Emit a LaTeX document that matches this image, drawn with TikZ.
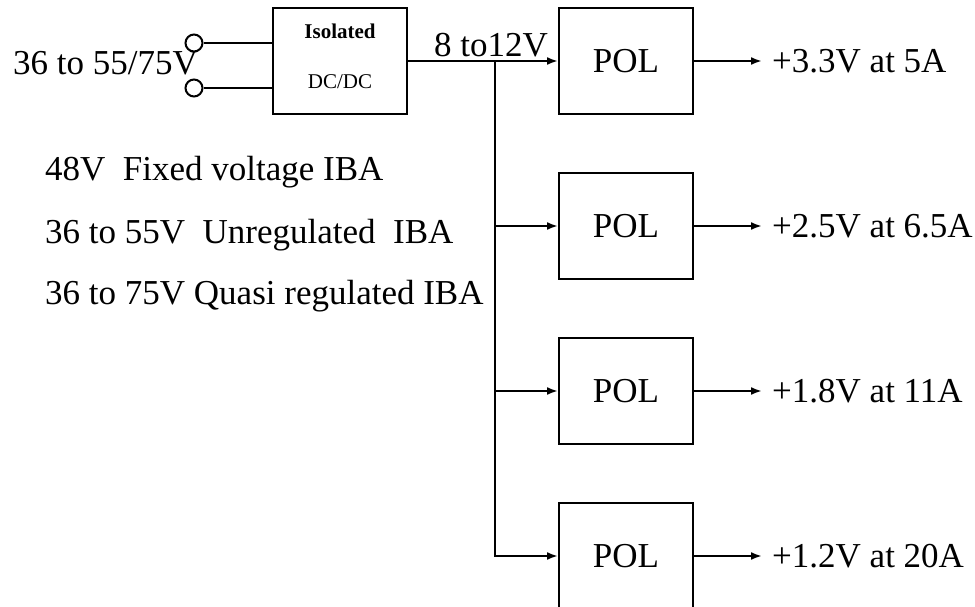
\documentclass[tikz,border=0pt]{standalone}
\usepackage{fontspec}
\setmainfont{Liberation Serif}
\usetikzlibrary{arrows.meta,positioning}
\tikzset{
  box/.style={
    draw,
    line width=2pt,
    minimum width=134pt,
    minimum height=106pt,
    inner sep=0pt,
    font=\fontsize{35}{40}\selectfont
  },
  term/.style={
    draw,
    circle,
    line width=2pt,
    minimum size=17pt,
    inner sep=0pt
  },
  lbl/.style={
    inner sep=0pt,
    font=\fontsize{35}{40}\selectfont
  },
  outlbl/.style={
    lbl,
    inner xsep=10pt,
    anchor=west
  },
  wire/.style={
    line width=2pt
  },
  arrow/.style={
    -{Latex[length=11pt,width=8pt]},
    line width=2pt
  }
}

\begin{document}
\begin{tikzpicture}[x=1pt,y=-1pt,node distance=57pt and 150pt]
\useasboundingbox (0,0) rectangle (975,607);

% isolated front end
\node[box, align=center, text depth=9pt, font=\fontsize{21}{50}\selectfont] (dcdc) at (340,61) {\textbf{Isolated}\\DC/DC};
\node[term] (tin) at (194,43) {};
\node[term] (bin) at (194,88) {};
\node[lbl, anchor=base east] (vin) at (198,75) {36 to 55/75V};

% point of load converters
\node[box, right=of dcdc] (pol1) {POL};
\node[box, below=of pol1] (pol2) {POL};
\node[box, below=of pol2] (pol3) {POL};
\node[box, below=of pol3] (pol4) {POL};

\node[outlbl, right=68pt of pol1] (out1) {+3.3V at 5A};
\node[outlbl, right=68pt of pol2] (out2) {+2.5V at 6.5A};
\node[outlbl, right=68pt of pol3] (out3) {+1.8V at 11A};
\node[outlbl, right=68pt of pol4] (out4) {+1.2V at 20A};

% bus voltage and IBA variants
\node[lbl, anchor=base west] (vbus) at (434,57) {8 to12V};
\node[lbl, anchor=base west] (iba1) at (45,181) {48V\ \ Fixed voltage IBA};
\node[lbl, anchor=base west] (iba2) at (45,243) {36 to 55V\ \ Unregulated\ \ IBA};
\node[lbl, anchor=base west] (iba3) at (45,304) {36 to 75V Quasi regulated IBA};

\coordinate (tap) at (495,61);

\draw[wire] (tin) -- (tin -| dcdc.west);
\draw[wire] (bin) -- (bin -| dcdc.west);
\draw[arrow] (dcdc) -- (pol1);
\draw[arrow] (tap) |- (pol2);
\draw[arrow] (tap) |- (pol3);
\draw[arrow] (tap) |- (pol4);
\draw[arrow] (pol1) -- (out1);
\draw[arrow] (pol2) -- (out2);
\draw[arrow] (pol3) -- (out3);
\draw[arrow] (pol4) -- (out4);
\end{tikzpicture}
\end{document}
